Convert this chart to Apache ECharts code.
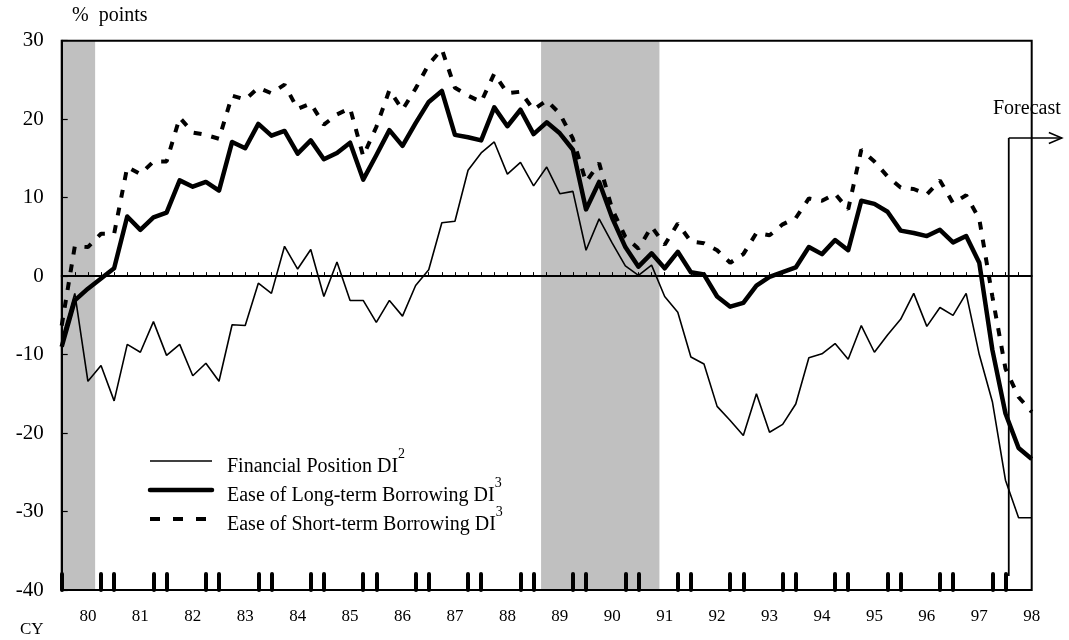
<!DOCTYPE html>
<html><head><meta charset="utf-8">
<script src="https://cdn.jsdelivr.net/npm/echarts@6/dist/echarts.min.js"></script>
<style>html,body{margin:0;padding:0;background:#fff}#c{width:1069px;height:640px}</style>
</head><body><div id="c"></div>
<script>
const FONT = '"Liberation Serif", "Times New Roman", Times, serif';

// Year tick labels (one per year, centred on the 3rd quarterly point of each year)
const tickLabels = ['80','81','82','83','84','85','86','87','88','89','90','91','92','93','94','95','96','97','98'];

// Quarterly categories (75 quarterly points)
const categories = [];
for (let y = 0; y < tickLabels.length; y++) {
  for (let q = 1; q <= 4; q++) {
    if (categories.length < 75) categories.push('19' + tickLabels[y] + 'Q' + q);
  }
}

// Series values (% points)
const financialPosition = [-8, -2.2, -13.4, -11.4, -15.9, -8.7, -9.7, -5.8, -10.1, -8.7,
  -12.7, -11.1, -13.4, -6.2, -6.3, -0.9, -2.2, 3.8, 0.9, 3.4,
  -2.6, 1.8, -3.1, -3.1, -5.9, -3.1, -5.1, -1.2, 0.8, 6.8,
  7.0, 13.5, 15.7, 17.1, 13.0, 14.5, 11.5, 13.9, 10.5, 10.8,
  3.3, 7.3, 4.2, 1.3, 0.1, 1.4, -2.6, -4.6, -10.3, -11.2,
  -16.6, -18.4, -20.3, -15.0, -19.9, -18.9, -16.3, -10.4, -9.9, -8.6,
  -10.6, -6.3, -9.7, -7.5, -5.5, -2.2, -6.4, -4.0, -5.0, -2.2,
  -10.0, -16.0, -26.0, -30.8, -30.8];

const longTermBorrowing = [-9.0, -3.1, -1.6, -0.3, 1.0, 7.6, 5.9, 7.5, 8.1, 12.2,
  11.4, 12.0, 10.9, 17.1, 16.3, 19.4, 17.9, 18.5, 15.6, 17.3,
  14.9, 15.7, 17.0, 12.3, 15.4, 18.6, 16.6, 19.5, 22.2, 23.6,
  18.0, 17.7, 17.3, 21.5, 19.1, 21.2, 18.1, 19.6, 18.2, 16.1,
  8.5, 12.0, 7.4, 3.7, 1.2, 2.9, 1.0, 3.1, 0.5, 0.2,
  -2.6, -3.9, -3.4, -1.2, -0.1, 0.5, 1.1, 3.7, 2.8, 4.6,
  3.3, 9.6, 9.2, 8.2, 5.8, 5.5, 5.1, 5.9, 4.3, 5.1,
  1.7, -9.4, -17.5, -21.9, -23.3];

const shortTermBorrowing = [-6.3, 3.8, 3.7, 5.4, 5.4, 13.9, 13.0, 14.6, 14.6, 20.2,
  18.3, 18.0, 17.5, 23.0, 22.5, 24.0, 23.3, 24.4, 21.3, 22.0,
  19.3, 20.6, 21.4, 15.3, 19.0, 23.7, 21.2, 23.9, 27.0, 28.9,
  24.0, 23.0, 22.2, 25.8, 23.3, 23.5, 21.2, 22.4, 20.7, 17.5,
  12.0, 14.4, 8.5, 5.0, 3.5, 6.3, 4.0, 6.7, 4.4, 4.2,
  3.3, 1.7, 2.8, 5.5, 5.2, 6.6, 7.4, 9.9, 9.6, 10.5,
  8.5, 16.1, 14.6, 12.7, 11.3, 11.1, 10.4, 12.2, 9.3, 10.3,
  7.3, -2.6, -11.8, -15.4, -17.3];

// Recession shading, in quarterly-index units
const shadedPeriods = [[0, 2.55], [36.57, 45.6]];

// Forecast marker (quarter index, top and bottom value, arrow end index)
const forecastAt = 72.25;
const forecastTop = 17.6;
const forecastBottom = -38.2;
const forecastArrowEnd = 76.3;

const legendNames = ['Financial Position DI', 'Ease of Long-term Borrowing DI', 'Ease of Short-term Borrowing DI'];
const legendSup = ['2', '3', '3'];

const chart = echarts.init(document.getElementById('c'), null, {renderer: 'canvas'});

const thickTick = i => (i % 4 === 0 || i % 4 === 3);

const option = {
  animation: false,
  backgroundColor: '#fff',
  textStyle: {fontFamily: FONT, color: '#000'},
  grid: {left: 61.7, right: 37.3, top: 40.7, bottom: 50, show: true, borderColor: '#000', borderWidth: 2, backgroundColor: 'transparent', z: 10},
  xAxis: [
    {
      type: 'category', data: categories, boundaryGap: false, z: 6, position: 'bottom',
      axisLine: {show: true, lineStyle: {color: '#000', width: 2}},
      axisTick: {show: true, inside: true, length: 4, interval: 0, lineStyle: {color: '#000', width: 1}},
      axisLabel: {show: false},
      splitLine: {show: false}
    },
    {
      type: 'category', data: categories, boundaryGap: false, z: 7, position: 'bottom', offset: 0,
      axisLine: {show: false},
      axisTick: {show: true, inside: true, length: 16, interval: (i) => thickTick(i), lineStyle: {color: '#000', width: 4, cap: 'round'}},
      axisLabel: {show: true, interval: (i) => i % 4 === 2, formatter: (v, i) => tickLabels[Math.round((i - 2) / 4)],
        fontFamily: FONT, fontSize: 17, color: '#000', margin: 18},
      splitLine: {show: false}
    },
    {
      type: 'value', min: 0, max: categories.length - 1, show: false, position: 'bottom'
    }
  ],
  yAxis: {
    type: 'value', min: -40, max: 30, interval: 10, z: 6,
    axisLine: {show: true, lineStyle: {color: '#000', width: 2}},
    axisTick: {show: true, inside: true, length: 6, lineStyle: {color: '#000', width: 1.2}},
    axisLabel: {fontFamily: FONT, fontSize: 21, color: '#000', margin: 18},
    splitLine: {show: false}
  },
  series: [
    {
      type: 'line', xAxisIndex: 2, data: [], z: 1, silent: true,
      markArea: {silent: true, itemStyle: {color: '#c0c0c0'},
        data: shadedPeriods.map(p => [{xAxis: p[0]}, {xAxis: p[1]}])}
    },
    {
      type: 'line', xAxisIndex: 2, data: [], z: 2, silent: true,
      markLine: {silent: true, symbol: ['none', 'none'], label: {show: false},
        lineStyle: {color: '#000', width: 2, type: 'solid'}, data: [{yAxis: 0}]}
    },
    {
      name: legendNames[0], type: 'line', xAxisIndex: 0, data: financialPosition, z: 3,
      symbol: 'none', lineStyle: {color: '#000', width: 1.6}
    },
    {
      name: legendNames[1], type: 'line', xAxisIndex: 0, data: longTermBorrowing, z: 4,
      symbol: 'none', lineStyle: {color: '#000', width: 4.5, join: 'round'}
    },
    {
      name: legendNames[2], type: 'line', xAxisIndex: 0, data: shortTermBorrowing, z: 4,
      symbol: 'none', lineStyle: {color: '#000', width: 4, type: [8, 10], cap: 'butt'}
    }
  ]
};
chart.setOption(option);

// Annotations placed through the axis scales
const toPx = (x, y) => chart.convertToPixel({xAxisIndex: 2, yAxisIndex: 0}, [x, y]);
const fTop = toPx(forecastAt, forecastTop);
const fBot = toPx(forecastAt, forecastBottom);
const fEnd = toPx(forecastArrowEnd, forecastTop);

const legendY = [461, 490, 519];
const legendStyles = [
  {stroke: '#000', lineWidth: 1.6},
  {stroke: '#000', lineWidth: 4.5, lineCap: 'round'},
  {stroke: '#000', lineWidth: 4, lineDash: [10, 13]}
];
const graphics = [
  {type: 'text', left: 72, top: 6, style: {text: '%  points', font: '20px ' + FONT, fill: '#000'}},
  {type: 'text', left: 20, top: 621, style: {text: 'CY', font: '17px ' + FONT, fill: '#000'}},
  {type: 'text', left: 993, top: 99, style: {text: 'Forecast', font: '20px ' + FONT, fill: '#000'}},
  {type: 'line', shape: {x1: fTop[0], y1: fTop[1], x2: fBot[0], y2: fBot[1]}, style: {stroke: '#000', lineWidth: 1.8}, z: 20},
  {type: 'line', shape: {x1: fTop[0], y1: fTop[1], x2: fEnd[0], y2: fEnd[1]}, style: {stroke: '#000', lineWidth: 1.5}, z: 20},
  {type: 'polyline', shape: {points: [[fEnd[0] - 13, fEnd[1] - 5.5], [fEnd[0], fEnd[1]], [fEnd[0] - 13, fEnd[1] + 5.5]]}, style: {stroke: '#000', lineWidth: 1.5, fill: null}, z: 20}
];
legendNames.forEach((n, i) => {
  graphics.push({type: 'line', shape: {x1: 150, y1: legendY[i], x2: 212, y2: legendY[i]}, style: legendStyles[i], z: 20});
  graphics.push({type: 'text', x: 227, y: legendY[i] + 1, z: 20,
    style: {
      text: '{a|' + n + '}{s|' + legendSup[i] + '}',
      verticalAlign: 'middle',
      rich: {
        a: {fontFamily: FONT, fontSize: 20, fill: '#000', lineHeight: 30, verticalAlign: 'bottom'},
        s: {fontFamily: FONT, fontSize: 14, fill: '#000', lineHeight: 30, verticalAlign: 'top'}
      }
    }});
});
chart.setOption({graphic: graphics});
</script>
</body></html>
